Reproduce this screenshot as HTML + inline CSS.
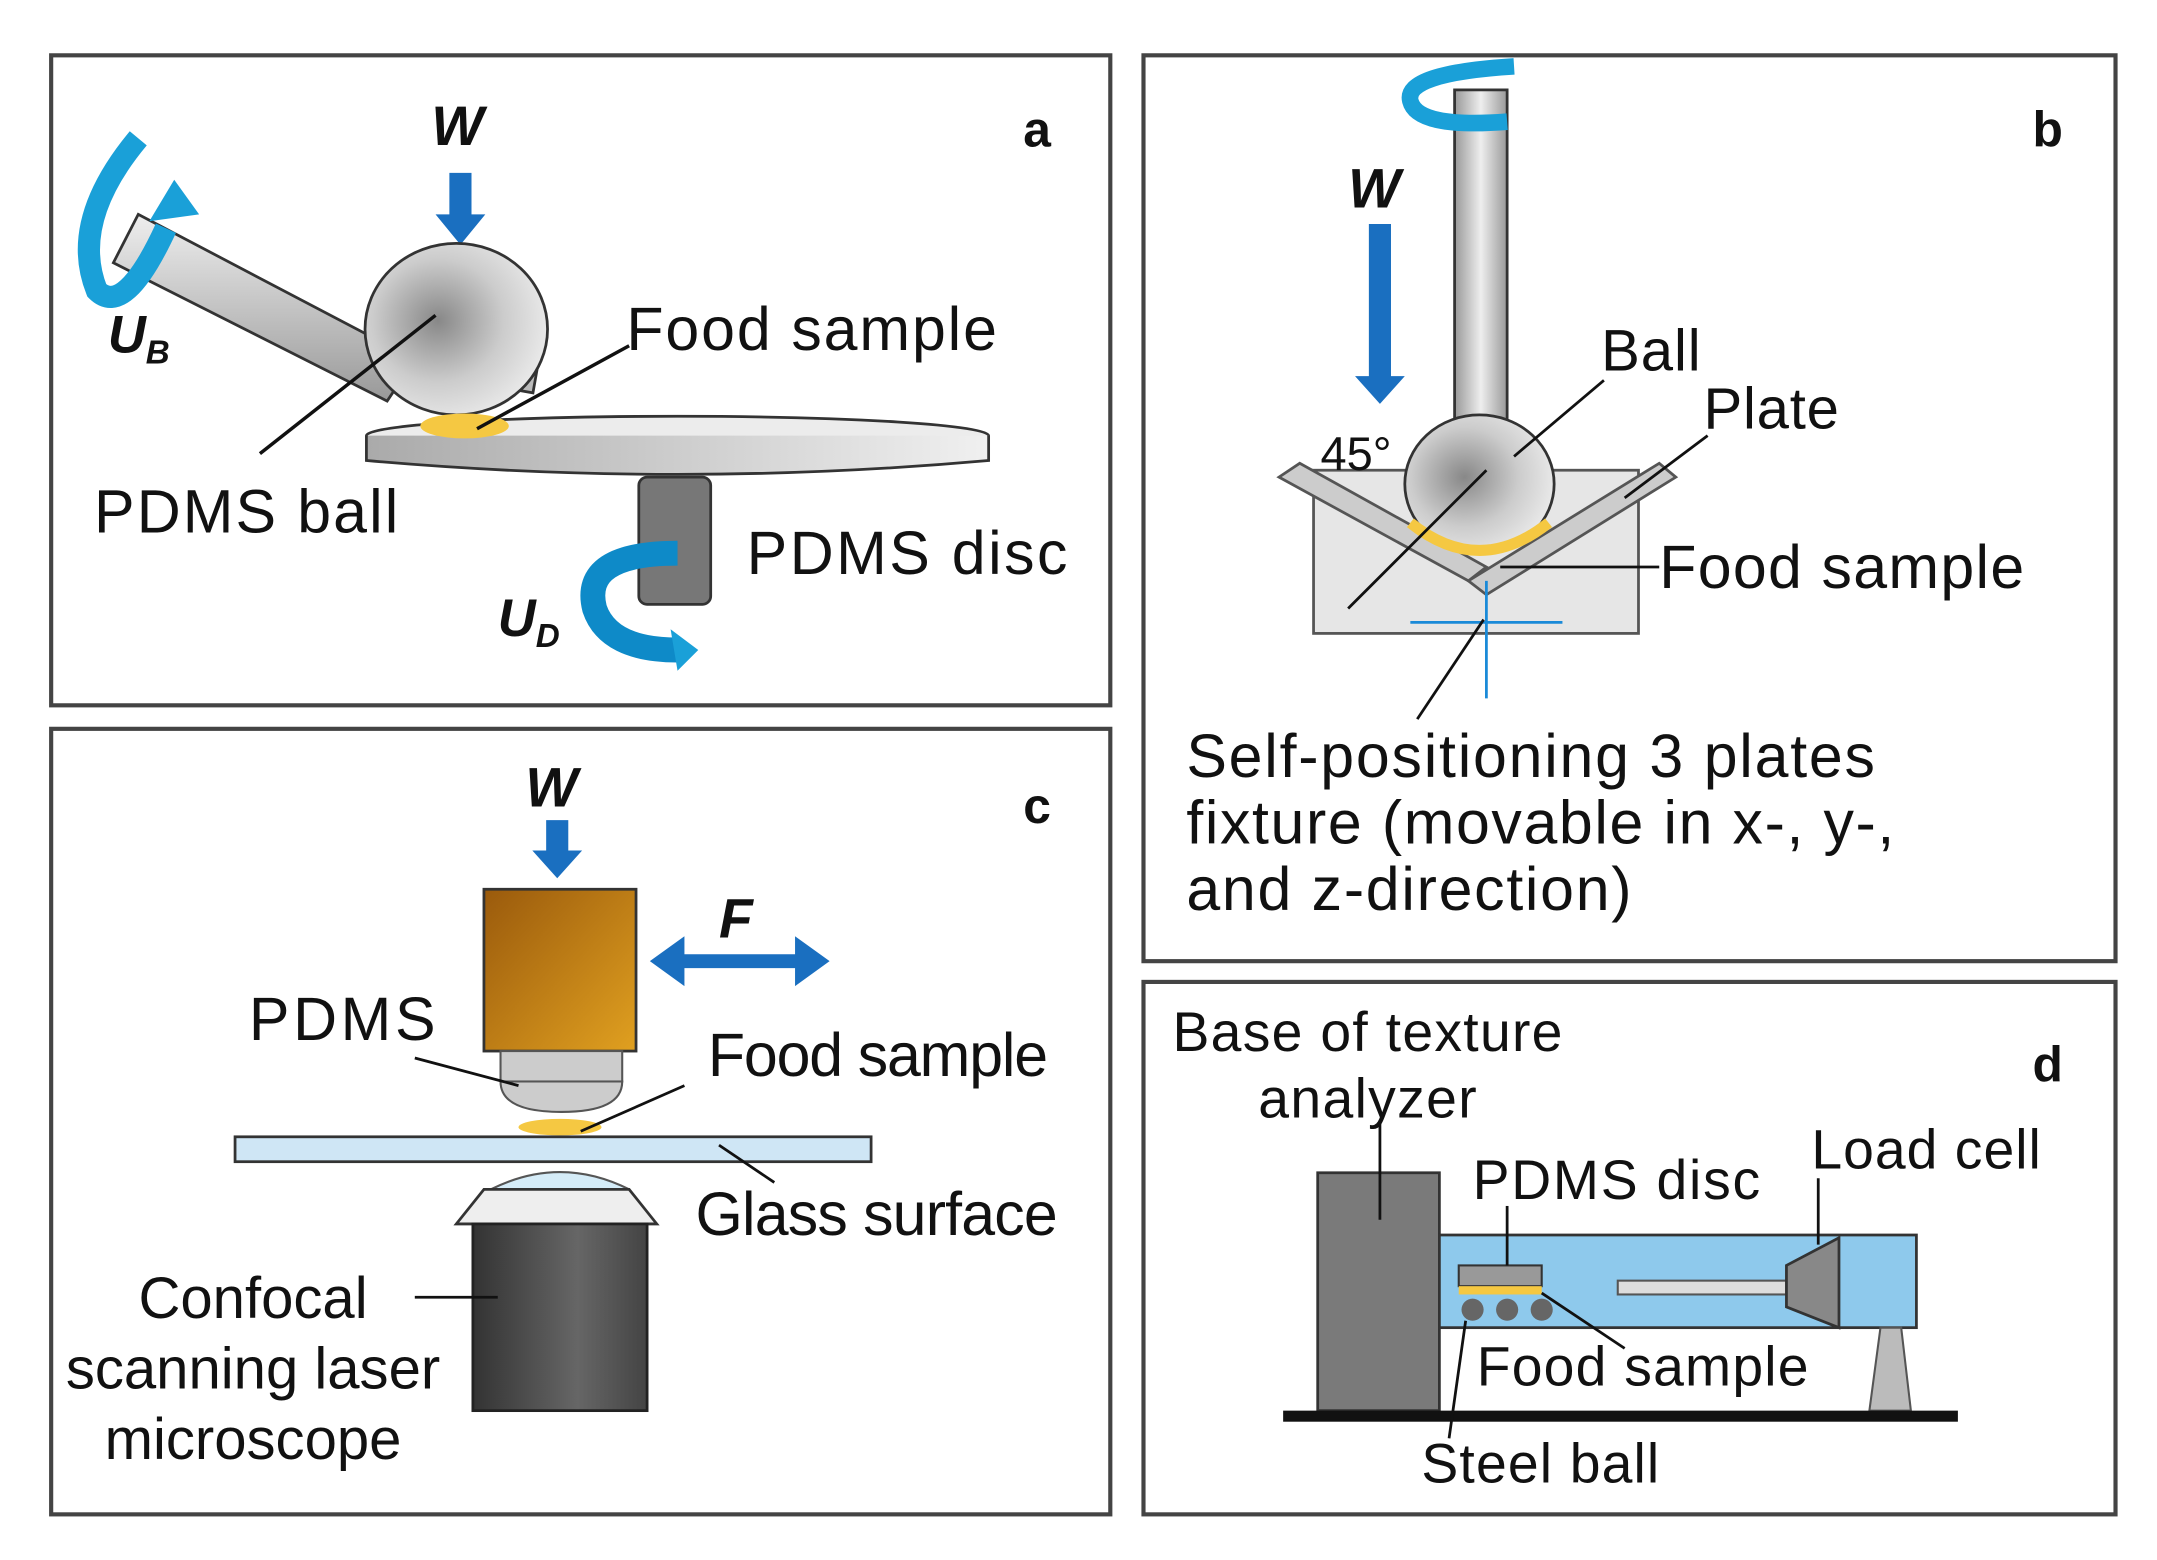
<!DOCTYPE html>
<html><head><meta charset="utf-8"><style>
html,body{margin:0;padding:0;background:#fff;}
svg{display:block;}
text{font-family:"Liberation Sans",sans-serif;fill:#111;}
</style></head><body>
<svg width="2157" height="1560" viewBox="0 0 1560 1128" preserveAspectRatio="none" xmlns="http://www.w3.org/2000/svg">
<defs>
<linearGradient id="rod" x1="0" y1="0" x2="0" y2="1"><stop offset="0" stop-color="#eee"/><stop offset="1" stop-color="#999"/></linearGradient>
<linearGradient id="rodv" x1="0" y1="0" x2="1" y2="0"><stop offset="0" stop-color="#999"/><stop offset=".5" stop-color="#eee"/><stop offset="1" stop-color="#999"/></linearGradient>
<radialGradient id="ball" cx=".4" cy=".45" r=".6"><stop offset="0" stop-color="#888"/><stop offset=".6" stop-color="#ccc"/><stop offset="1" stop-color="#e8e8e8"/></radialGradient>
<linearGradient id="disc" x1="0" y1="0" x2="1" y2="0"><stop offset="0" stop-color="#aaa"/><stop offset="1" stop-color="#f0f0f0"/></linearGradient>
<linearGradient id="brown" x1="0" y1="0" x2="1" y2="1"><stop offset="0" stop-color="#9a5a0c"/><stop offset="1" stop-color="#e0a020"/></linearGradient>
<linearGradient id="dark" x1="0" y1="0" x2="1" y2="0"><stop offset="0" stop-color="#333"/><stop offset=".6" stop-color="#666"/><stop offset="1" stop-color="#444"/></linearGradient>
</defs>
<g fill="none" stroke="#444" stroke-width="3">
<rect x="37" y="40" width="766" height="470"/>
<rect x="827" y="40" width="703" height="655"/>
<rect x="37" y="527" width="766" height="568"/>
<rect x="827" y="710" width="703" height="385"/>
</g>
<!-- Panel a -->
<text x="740" y="106" font-family="Liberation Serif" font-weight="bold" font-size="36">a</text>
<text x="312" y="105" font-weight="bold" font-style="italic" font-size="40">W</text>
<path d="M325 125h16v30h10l-18 22-18-22h10z" fill="#1a6fc0"/>
<polygon points="100,155 300,260 280,290 82,190" fill="url(#rod)" stroke="#333" stroke-width="2"/>
<rect x="362" y="232" width="28" height="50" transform="rotate(10 376 257)" fill="#bbb" stroke="#333" stroke-width="2"/>
<ellipse cx="490" cy="315" rx="225" ry="14" fill="#ececec" stroke="#333" stroke-width="2"/>
<path d="M265 315 v18 q225 20 450 0 v-18" fill="url(#disc)" stroke="#333" stroke-width="2"/>
<ellipse cx="330" cy="238" rx="66" ry="62" fill="url(#ball)" stroke="#333" stroke-width="2"/>
<ellipse cx="336" cy="308" rx="32" ry="9" fill="#f5c842"/>
<rect x="462" y="345" width="52" height="92" rx="6" fill="#777" stroke="#333" stroke-width="2"/>
<path d="M100 100 q-50 60 -30 110 q20 20 50 -45" fill="none" stroke="#1aa0d8" stroke-width="16"/>
<path d="M108 160 l18 -30 l18 25z" fill="#1aa0d8"/>
<path d="M490 400 q-70 0 -60 40 q10 30 60 30" fill="none" stroke="#0e8ac8" stroke-width="18"/>
<path d="M485 455 l20 15 l-15 15z" fill="#1aa0d8"/>
<text x="78" y="255" font-weight="bold" font-style="italic" font-size="38">U<tspan font-size="24" dy="8">B</tspan></text>
<text x="360" y="460" font-weight="bold" font-style="italic" font-size="38">U<tspan font-size="24" dy="8">D</tspan></text>
<g stroke="#111" stroke-width="2.5"><line x1="188" y1="328" x2="315" y2="228"/><line x1="345" y1="310" x2="455" y2="250"/></g>
<text x="453" y="253" font-size="44" textLength="268">Food sample</text>
<text x="68" y="385" font-size="44" textLength="220">PDMS ball</text>
<text x="540" y="415" font-size="44" textLength="232">PDMS disc</text>
<!-- Panel b -->
<text x="1470" y="106" font-family="Liberation Serif" font-weight="bold" font-size="36">b</text>
<rect x="1052" y="65" width="38" height="245" fill="url(#rodv)" stroke="#333" stroke-width="2"/>
<path d="M1095 48 q-80 5 -75 25 q5 20 70 15" fill="none" stroke="#1aa0d8" stroke-width="12"/>
<text x="975" y="150" font-weight="bold" font-style="italic" font-size="40">W</text>
<path d="M990 162h16v110h10l-18 20-18-20h10z" fill="#1a6fc0"/>
<rect x="950" y="340" width="235" height="118" fill="#e6e6e6" stroke="#555" stroke-width="2"/>
<polygon points="925,345 940,335 1075,410 1062,420" fill="#ccc" stroke="#555" stroke-width="2"/>
<polygon points="1062,420 1075,430 1212,345 1200,335" fill="#ccc" stroke="#555" stroke-width="2"/>
<ellipse cx="1070" cy="350" rx="54" ry="50" fill="url(#ball)" stroke="#333" stroke-width="2"/>
<path d="M1020 378 q50 40 100 0" fill="none" stroke="#f5c842" stroke-width="8"/>
<g stroke="#1a8ad8" stroke-width="2"><line x1="1020" y1="450" x2="1130" y2="450"/><line x1="1075" y1="420" x2="1075" y2="505"/></g>
<g stroke="#111" stroke-width="2"><line x1="1075" y1="340" x2="975" y2="440"/><line x1="1095" y1="330" x2="1160" y2="275"/><line x1="1175" y1="360" x2="1235" y2="315"/><line x1="1085" y1="410" x2="1200" y2="410"/><line x1="1073" y1="448" x2="1025" y2="520"/></g>
<text x="955" y="340" font-size="34">45°</text>
<text x="1158" y="268" font-size="42" textLength="72">Ball</text>
<text x="1232" y="310" font-size="42" textLength="98">Plate</text>
<text x="1200" y="425" font-size="44" textLength="264">Food sample</text>
<text x="858" y="562" font-size="44" textLength="498">Self-positioning 3 plates</text>
<text x="858" y="610" font-size="44" textLength="512">fixture (movable in x-, y-,</text>
<text x="858" y="658" font-size="44" textLength="322">and z-direction)</text>
<!-- Panel c -->
<text x="740" y="595" font-family="Liberation Serif" font-weight="bold" font-size="36">c</text>
<text x="380" y="583" font-weight="bold" font-style="italic" font-size="40">W</text>
<path d="M395 593h16v22h10l-18 20-18-20h10z" fill="#1a6fc0"/>
<rect x="350" y="643" width="110" height="117" fill="url(#brown)" stroke="#333" stroke-width="2"/>
<rect x="362" y="760" width="88" height="22" fill="#ccc" stroke="#555" stroke-width="1.5"/>
<path d="M362 782 h88 q0 22 -44 22 q-44 0 -44 -22z" fill="#ccc" stroke="#555" stroke-width="1.5"/>
<ellipse cx="405" cy="815" rx="30" ry="6" fill="#f5c842"/>
<rect x="170" y="822" width="460" height="18" fill="#cfe6f5" stroke="#333" stroke-width="2"/>
<path d="M355 860 q50 -25 100 0z" fill="#d5ecf8" stroke="#555" stroke-width="1.5"/>
<polygon points="330,885 350,860 455,860 475,885" fill="#eee" stroke="#333" stroke-width="2"/>
<rect x="342" y="885" width="126" height="135" fill="url(#dark)" stroke="#222" stroke-width="2"/>
<path d="M490 695h90" stroke="#1a6fc0" stroke-width="10"/>
<path d="M470 695l25-18v36z M600 695l-25-18v36z" fill="#1a6fc0"/>
<text x="520" y="678" font-weight="bold" font-style="italic" font-size="40">F</text>
<g stroke="#111" stroke-width="2"><line x1="300" y1="765" x2="375" y2="785"/><line x1="420" y1="818" x2="495" y2="785"/><line x1="520" y1="828" x2="560" y2="855"/><line x1="300" y1="938" x2="360" y2="938"/></g>
<text x="180" y="752" font-size="44" textLength="135">PDMS</text>
<text x="512" y="778" font-size="44" textLength="246">Food sample</text>
<text x="503" y="893" font-size="44" textLength="262">Glass surface</text>
<text x="183" y="953" font-size="42" text-anchor="middle">Confocal</text>
<text x="183" y="1004" font-size="42" text-anchor="middle">scanning laser</text>
<text x="183" y="1055" font-size="42" text-anchor="middle">microscope</text>
<!-- Panel d -->
<text x="1470" y="782" font-family="Liberation Serif" font-weight="bold" font-size="36">d</text>
<text x="848" y="760" font-size="40" textLength="282">Base of texture</text>
<text x="910" y="808" font-size="40" textLength="158">analyzer</text>
<rect x="953" y="848" width="88" height="172" fill="#7a7a7a" stroke="#333" stroke-width="2"/>
<rect x="1041" y="893" width="345" height="67" fill="#8ec9ec" stroke="#333" stroke-width="2"/>
<rect x="1055" y="915" width="60" height="15" fill="#999" stroke="#333" stroke-width="1.5"/>
<rect x="1055" y="930" width="60" height="6" fill="#f5c842"/>
<circle cx="1065" cy="947" r="8" fill="#666"/><circle cx="1090" cy="947" r="8" fill="#666"/><circle cx="1115" cy="947" r="8" fill="#666"/>
<rect x="1170" y="926" width="122" height="10" fill="#ddd" stroke="#555" stroke-width="1.5"/>
<polygon points="1292,915 1330,895 1330,960 1292,945" fill="#888" stroke="#333" stroke-width="2"/>
<polygon points="1360,960 1375,960 1382,1020 1352,1020" fill="#bbb" stroke="#555" stroke-width="1.5"/>
<rect x="928" y="1020" width="488" height="8" fill="#111"/>
<g stroke="#111" stroke-width="2"><line x1="998" y1="810" x2="998" y2="882"/><line x1="1090" y1="872" x2="1090" y2="915"/><line x1="1315" y1="852" x2="1315" y2="900"/><line x1="1115" y1="935" x2="1175" y2="975"/><line x1="1060" y1="955" x2="1048" y2="1040"/></g>
<text x="1065" y="867" font-size="40" textLength="208">PDMS disc</text>
<text x="1310" y="845" font-size="40" textLength="166">Load cell</text>
<text x="1068" y="1002" font-size="40" textLength="240">Food sample</text>
<text x="1028" y="1072" font-size="40" textLength="172">Steel ball</text>
</svg>
</body></html>
